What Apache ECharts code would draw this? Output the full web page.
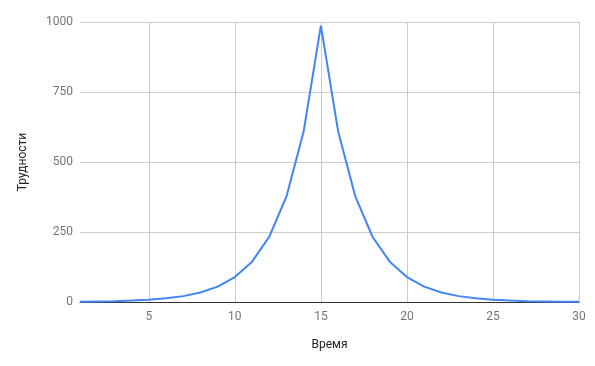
<!DOCTYPE html>
<html>
<head>
<meta charset="utf-8">
<script src="https://cdn.jsdelivr.net/npm/echarts@6/dist/echarts.min.js"></script>
<style>html,body{margin:0;padding:0;background:#fff}#c{width:595px;height:366px}</style>
</head>
<body>
<div id="c"></div>
<script>
const times = [1,2,3,4,5,6,7,8,9,10,11,12,13,14,15,16,17,18,19,20,21,22,23,24,25,26,27,28,29,30];
const difficulties = [1,2,3,5,8,13,21,34,55,89,144,233,377,610,987,610,377,233,144,89,55,34,21,13,8,5,3,2,1,1];
const xTicks = [5,10,15,20,25,30];
const yTicks = [0,250,500,750,1000];
const xTitle = 'Время';
const yTitle = 'Трудности';

const chart = echarts.init(document.getElementById('c'), null, {renderer:'canvas'});
const font = 'Roboto, Arial, sans-serif';
chart.setOption({
  animation:false,
  grid:{left:80,right:16,top:22,bottom:64,containLabel:false},
  xAxis:{
    type:'value', min:1, max:30,
    name:xTitle, nameLocation:'middle', nameGap:37,
    nameTextStyle:{color:'#222',fontSize:12,fontFamily:font},
    axisLine:{show:true,onZero:true,lineStyle:{color:'#333',width:1}},
    axisTick:{show:false,customValues:xTicks},
    axisLabel:{customValues:xTicks,color:'#757575',fontSize:12,fontFamily:font,margin:9},
    splitLine:{show:true,lineStyle:{color:'#ccc',width:1}}
  },
  yAxis:{
    type:'value', min:0, max:1000, interval:250,
    name:yTitle, nameLocation:'middle', nameGap:51, nameRotate:90,
    nameTextStyle:{color:'#222',fontSize:12,fontFamily:font},
    axisLine:{show:false},
    axisTick:{show:false},
    axisLabel:{customValues:yTicks,formatter:v=>String(v),color:'#757575',fontSize:12,fontFamily:font,margin:7},
    splitLine:{show:true,lineStyle:{color:'#ccc',width:1}}
  },
  series:[{
    type:'line',
    data:times.map((t,i)=>[t,difficulties[i]]),
    showSymbol:false,
    lineStyle:{color:'#4285f4',width:2},
    itemStyle:{color:'#4285f4'},
    z:3
  }]
});
</script>
</body>
</html>
